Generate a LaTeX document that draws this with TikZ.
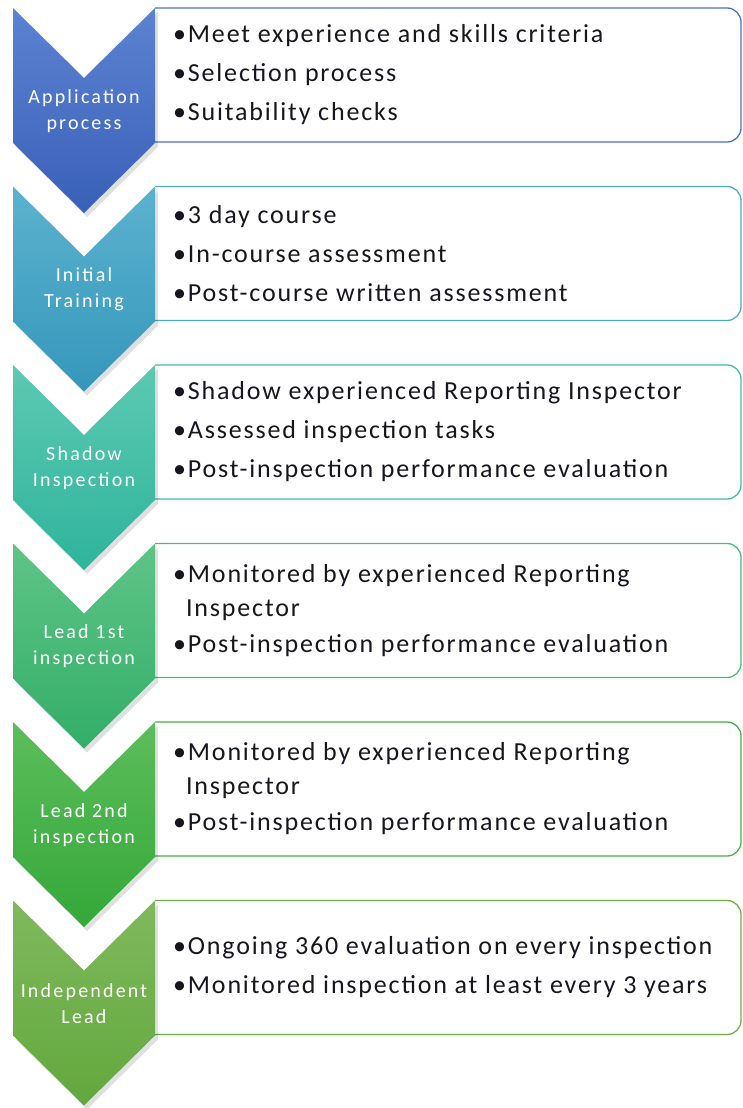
\documentclass[tikz,border=0pt]{standalone}
\usepackage{fontspec}
\setmainfont[LetterSpace=7]{Carlito}
\newfontfamily\chevfont[LetterSpace=11]{Carlito}
\usepackage{tikz}

\definecolor{c1top}{HTML}{5C83D1}
\definecolor{c1bot}{HTML}{3960B8}
\definecolor{c1}{HTML}{4A72C4}
\definecolor{c2top}{HTML}{5BB2CD}
\definecolor{c2bot}{HTML}{3597BC}
\definecolor{c2}{HTML}{4BACC6}
\definecolor{c3top}{HTML}{5DC9B2}
\definecolor{c3bot}{HTML}{2FB49C}
\definecolor{c3}{HTML}{3DBDA5}
\definecolor{c4top}{HTML}{5FC486}
\definecolor{c4bot}{HTML}{32AE68}
\definecolor{c4}{HTML}{4BBB78}
\definecolor{c5top}{HTML}{5CBD5B}
\definecolor{c5bot}{HTML}{34A839}
\definecolor{c5}{HTML}{45B04A}
\definecolor{c6top}{HTML}{80B95D}
\definecolor{c6bot}{HTML}{62A83D}
\definecolor{c6}{HTML}{70AD47}
\definecolor{itemink}{HTML}{16161F}

\begin{document}
\begin{tikzpicture}[x=1pt, y=-1pt,
    stepbox/.style = {line width=1.3pt, rounded corners=14pt},
    chevlabel/.style = {text=white, align=center, font=\chevfont\fontsize{20}{26}\selectfont},
    itemtext/.style = {anchor=west, align=left, text=itemink, inner sep=0pt, font=\fontsize{26}{39}\selectfont}]
    \useasboundingbox (0,0) rectangle (742,1108);
    \foreach \i/\lab/\items in {
        1/{Application\\process}/{\textbullet Meet experience and skills criteria\\\textbullet Selection process\\\textbullet Suitability checks},
        2/{Initial\\Training}/{\textbullet 3 day course\\\textbullet In-course assessment\\\textbullet Post-course written assessment},
        3/{Shadow\\Inspection}/{\textbullet Shadow experienced Reporting Inspector\\\textbullet Assessed inspection tasks\\\textbullet Post-inspection performance evaluation},
        4/{Lead 1st\\inspection}/{\textbullet Monitored by experienced Reporting\\[-5pt]\phantom{\textbullet}Inspector\\[-3pt]\textbullet Post-inspection performance evaluation},
        5/{Lead 2nd\\inspection}/{\textbullet Monitored by experienced Reporting\\[-5pt]\phantom{\textbullet}Inspector\\[-3pt]\textbullet Post-inspection performance evaluation},
        6/{Independent\\Lead}/{\textbullet Ongoing 360 evaluation on every inspection\\\textbullet Monitored inspection at least every 3 years}}
    {
        \pgfmathsetmacro\top{8+178.5*(\i-1)}
        % box with the items
        \draw[stepbox, draw=c\i] (155,\top) -- (741,\top) -- (741,\top+134) -- (155,\top+134);
        % chevron
        \fill[black, opacity=0.12] (16,\top+4) -- (87,\top+74) -- (158,\top+4) -- (158,\top+139) -- (87,\top+209) -- (16,\top+139) -- cycle;
        \shade[top color=c\i top, bottom color=c\i bot] (13,\top) -- (84,\top+70) -- (155,\top) -- (155,\top+135) -- (84,\top+205) -- (13,\top+135) -- cycle;
        \node[chevlabel] (lab\i) at (84,\top+103) {\lab};
        \node[itemtext] (items\i) at (173,\top+67) {\items};
    }
\end{tikzpicture}
\end{document}
